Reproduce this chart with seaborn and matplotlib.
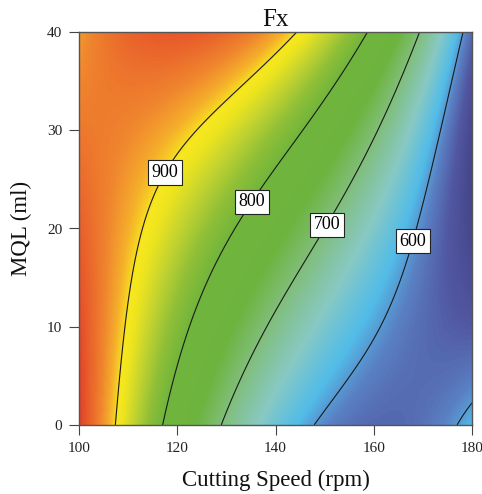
import numpy as np
import matplotlib
matplotlib.use("Agg")
import matplotlib.pyplot as plt
from matplotlib.colors import LinearSegmentedColormap, Normalize
import seaborn as sns

# ---- data (Fx at grid knots) ----
speed = [100, 110, 120, 130, 140, 150, 160, 170, 180]
mql = [0, 10, 20, 30, 40]
fx_mql0 = [991, 870, 770, 691, 632, 595, 579, 584, 609]
fx_mql10 = [975, 893, 822, 753, 690, 644, 599, 576, 567]
fx_mql20 = [964, 915, 864, 812, 755, 697, 645, 593, 548]
fx_mql30 = [950, 937, 908, 870, 829, 778, 706, 622, 550]
fx_mql40 = [925, 955, 968, 962, 924, 866, 791, 692, 575]
contour_levels = [600, 700, 800, 900]
label_spots = [(116.5, 26.0), (134.4, 23.0), (150.0, 20.5), (167.2, 18.8)]
x_ticks = [100, 120, 140, 160, 180]
y_ticks = [0, 10, 20, 30, 40]

# colour stops (value, colour)
stop_vals = [540, 565, 590, 612, 650, 700, 740, 800, 830, 860, 885, 897, 915, 935, 955, 975, 995]
stop_cols = ["#45468a", "#5157a1", "#5a80c4", "#52bce8", "#88c9c4", "#80be78",
             "#6db43f", "#70b53c", "#8fbf38", "#c2d330", "#ede41f", "#f7e81e",
             "#f5b02b", "#f0882e", "#eb6b2c", "#e6512a", "#e03628"]


def basis(u, v):
    a = (np.asarray(u, float) - 140.0) / 40.0
    b = (np.asarray(v, float) - 20.0) / 20.0
    return np.stack([np.ones_like(a), a, b, a * b, a ** 2, b ** 2,
                     a ** 2 * b, a * b ** 2, a ** 3, b ** 3, a ** 3 * b, a * b ** 3], axis=-1)


grid = np.array([fx_mql0, fx_mql10, fx_mql20, fx_mql30, fx_mql40], float)
GU, GV = np.meshgrid(speed, mql)
coef, *_ = np.linalg.lstsq(basis(GU.ravel(), GV.ravel()), grid.ravel(), rcond=None)

ue = np.linspace(speed[0], speed[-1], 500)
ve = np.linspace(mql[0], mql[-1], 500)
U, V = np.meshgrid(ue, ve)
Z = basis(U, V) @ coef

sns.set_theme(style="ticks")
plt.rcParams["font.family"] = ["Liberation Serif", "DejaVu Serif"]

vmin, vmax = stop_vals[0], stop_vals[-1]
pos = [(s - vmin) / (vmax - vmin) for s in stop_vals]
cmap = LinearSegmentedColormap.from_list("fx", list(zip(pos, stop_cols)))

fig = plt.figure(figsize=(4.82, 4.94), dpi=100)
ax = fig.add_axes([79 / 482, 1 - 425 / 494, (472 - 79) / 482, (425 - 32) / 494])
ax.imshow(Z, extent=[speed[0], speed[-1], mql[0], mql[-1]], origin="lower",
          aspect="auto", cmap=cmap, norm=Normalize(vmin, vmax), interpolation="bilinear")
cs = ax.contour(U, V, Z, levels=contour_levels, colors="#1a1a1a", linewidths=0.8)
labels = ax.clabel(cs, levels=contour_levels, inline=False, fmt="%d", fontsize=13,
                   manual=label_spots, colors="black")
for t in labels:
    t.set_rotation(0)
    t.set_bbox(dict(boxstyle="square,pad=0.2", fc="white", ec="#222222", lw=0.8))

ax.set_xlim(speed[0], speed[-1])
ax.set_ylim(mql[0], mql[-1])
ax.set_xticks(x_ticks)
ax.set_yticks(y_ticks)
ax.tick_params(direction="out", length=7, width=0.8, color="#444444",
               labelsize=11, labelcolor="#222222", pad=5)
for s in ax.spines.values():
    s.set_color("#555555")
    s.set_linewidth(1.0)
ax.set_title("Fx", fontsize=18, pad=4, color="#111111")
ax.set_xlabel("Cutting Speed (rpm)", fontsize=16.5, labelpad=11, color="#111111")
ax.set_ylabel("MQL (ml)", fontsize=16.5, labelpad=11, color="#111111")

fig.savefig("out.png", dpi=100, facecolor="white")
